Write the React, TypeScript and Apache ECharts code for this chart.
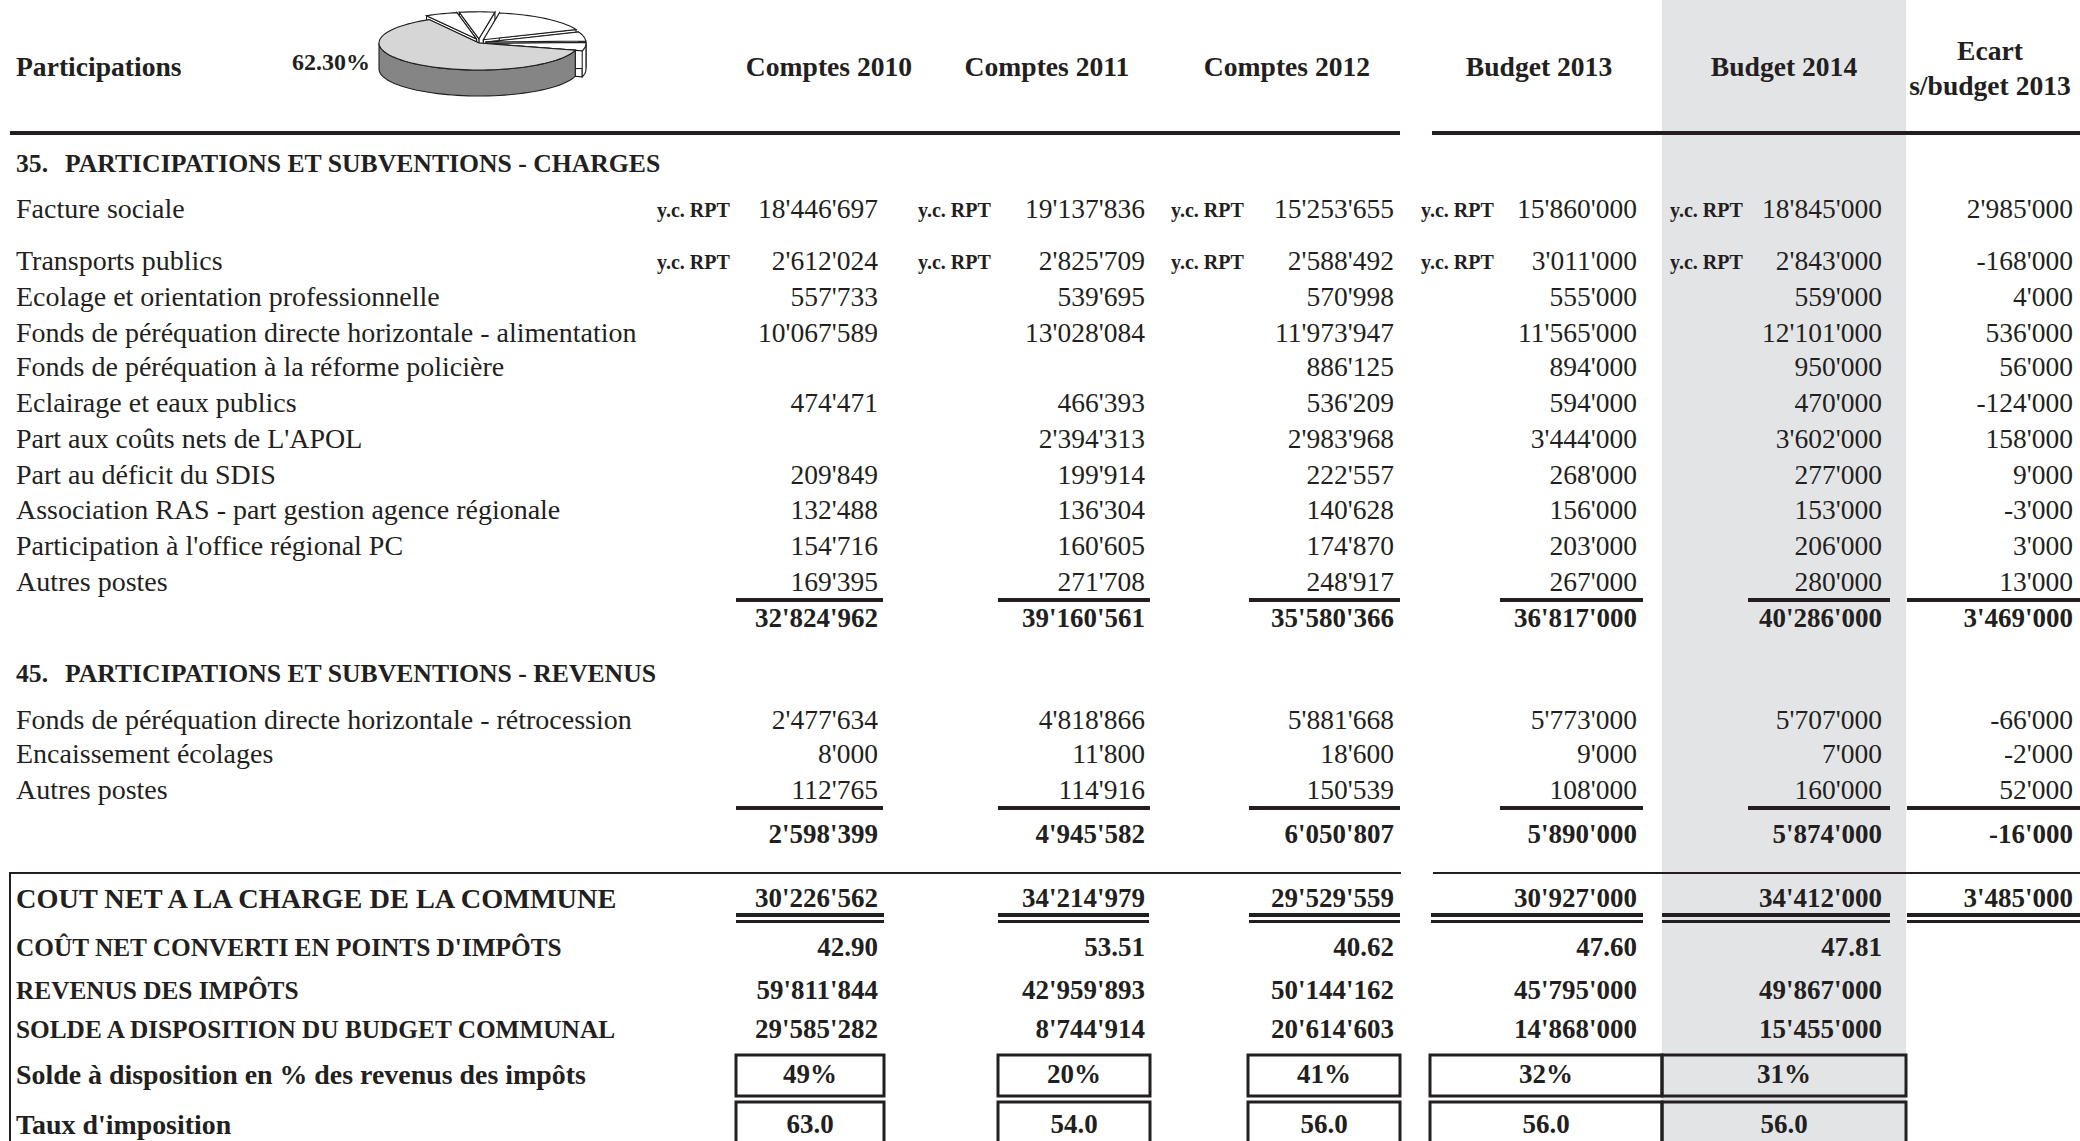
import React, { useEffect, useRef } from "react";
import * as echarts from "echarts";

// ---------------- data ----------------
const titleLabel = "Participations";
const pieShares = [62.3, 5.0, 5.5, 16.3, 5.7, 5.2];
const pieShareLabel = "62.30%";
const columnHeaders = ["Comptes 2010", "Comptes 2011", "Comptes 2012", "Budget 2013", "Budget 2014"];
const ecartHeaderLines = ["Ecart", "s/budget 2013"];
const rptTag = "y.c. RPT";

const chargesTitleNum = "35.";
const chargesTitle = "PARTICIPATIONS ET SUBVENTIONS - CHARGES";
const chargesLabels = [
  "Facture sociale",
  "Transports publics",
  "Ecolage et orientation professionnelle",
  "Fonds de péréquation directe horizontale - alimentation",
  "Fonds de péréquation à la réforme policière",
  "Eclairage et eaux publics",
  "Part aux coûts nets de L'APOL",
  "Part au déficit du SDIS",
  "Association RAS - part gestion agence régionale",
  "Participation à l'office régional PC",
  "Autres postes",
];
const chargesRptRows = [0, 1];
const charges2010 = [18446697, 2612024, 557733, 10067589, null, 474471, null, 209849, 132488, 154716, 169395];
const charges2011 = [19137836, 2825709, 539695, 13028084, null, 466393, 2394313, 199914, 136304, 160605, 271708];
const charges2012 = [15253655, 2588492, 570998, 11973947, 886125, 536209, 2983968, 222557, 140628, 174870, 248917];
const chargesB2013 = [15860000, 3011000, 555000, 11565000, 894000, 594000, 3444000, 268000, 156000, 203000, 267000];
const chargesB2014 = [18845000, 2843000, 559000, 12101000, 950000, 470000, 3602000, 277000, 153000, 206000, 280000];
const chargesEcart = [2985000, -168000, 4000, 536000, 56000, -124000, 158000, 9000, -3000, 3000, 13000];
const chargesTotals = [32824962, 39160561, 35580366, 36817000, 40286000, 3469000];

const revenusTitleNum = "45.";
const revenusTitle = "PARTICIPATIONS ET SUBVENTIONS - REVENUS";
const revenusLabels = [
  "Fonds de péréquation directe horizontale - rétrocession",
  "Encaissement écolages",
  "Autres postes",
];
const revenus2010 = [2477634, 8000, 112765];
const revenus2011 = [4818866, 11800, 114916];
const revenus2012 = [5881668, 18600, 150539];
const revenusB2013 = [5773000, 9000, 108000];
const revenusB2014 = [5707000, 7000, 160000];
const revenusEcart = [-66000, -2000, 52000];
const revenusTotals = [2598399, 4945582, 6050807, 5890000, 5874000, -16000];

const coutNetLabel = "COUT NET A LA CHARGE DE LA COMMUNE";
const coutNet = [30226562, 34214979, 29529559, 30927000, 34412000, 3485000];
const pointsLabel = "COÛT NET CONVERTI EN POINTS D'IMPÔTS";
const points = [42.9, 53.51, 40.62, 47.6, 47.81];
const revenusImpotsLabel = "REVENUS DES IMPÔTS";
const revenusImpots = [59811844, 42959893, 50144162, 45795000, 49867000];
const soldeLabel = "SOLDE A DISPOSITION DU BUDGET COMMUNAL";
const solde = [29585282, 8744914, 20614603, 14868000, 15455000];
const soldePctLabel = "Solde à disposition en % des revenus des impôts";
const soldePct = [49, 20, 41, 32, 31];
const tauxLabel = "Taux d'imposition";
const taux = [63.0, 54.0, 56.0, 56.0, 56.0];

// ---------------- layout / style ----------------
const W = 2080;
const H = 1141;
const INK = "#231f20";
const BAND = "#e3e4e6";
const SERIF = "'Liberation Serif', 'Times New Roman', serif";
const FS = { body: 28, head: 27.6, section: 25.7, rpt: 20, pct: 24, capsRow: 25.3, coutNet: 28.3, boldRow: 27.9, value: 27 };
const L = {
  labelX: 16,
  colRight: [878, 1145, 1394, 1637, 1882, 2073],
  colCenter: [829, 1047, 1287, 1539, 1784, 1990],
  rptX: [657, 918, 1171, 1421, 1670],
  band: [1662, 1906],
  headerY: 66,
  ecartY: [50, 85],
  headerRuleY: 131,
  headerRules: [[10, 1400], [1432, 2080]],
  chargesTitleY: 163,
  titleTextX: 65,
  chargeRowY: [208, 260, 296, 332, 366, 402, 438, 474, 509, 545, 581],
  chargeLineY: 598,
  chargeTotalY: 618,
  revenusTitleY: 673,
  revenusRowY: [719, 753, 789],
  revenusLineY: 806,
  revenusTotalY: 834,
  ulRanges: [[736, 883], [998, 1150], [1249, 1400], [1500, 1643], [1748, 1890], [1907, 2080]],
  frameY: 872,
  frameRanges: [[10, 1401], [1433, 2080]],
  coutNetY: 898,
  dblY: [913, 920],
  dblRanges: [[736, 884], [998, 1149], [1249, 1400], [1431, 1643], [1662, 1890], [1907, 2080]],
  pointsY: 947,
  revenusImpotsY: 990,
  soldeY: 1029,
  pctY: 1074,
  pctBox: [1055, 1096],
  tauxY: 1124,
  tauxBox: [1102, 1160],
  boxRanges: [[736, 884], [998, 1150], [1248, 1400], [1430, 1662], [1662, 1906]],
};
const PIE = { cx: 479, cy: 43, rx: 100, ry: 27, t: 26, start: 120, explode: 7 };

const fmt = (n: number | null) => {
  if (n === null || n === undefined) return "";
  const s = Math.abs(n).toString().replace(/\B(?=(\d{3})+(?!\d))/g, "'");
  return (n < 0 ? "-" : "") + s;
};
const font = (size: number, bold = false) => `${bold ? "bold " : ""}${size}px ${SERIF}`;

function txt(x: number, y: number, text: string, size: number, bold = false, align = "left") {
  return {
    type: "text",
    silent: true,
    x,
    y,
    style: {
      text,
      font: font(size, bold),
      fill: INK,
      align,
      textAlign: align,
      verticalAlign: "middle",
      textVerticalAlign: "middle",
    },
  };
}
function bar(x1: number, x2: number, y: number, h: number) {
  return { type: "rect", silent: true, shape: { x: x1, y, width: x2 - x1, height: h }, style: { fill: INK } };
}
function box(x1: number, x2: number, y1: number, y2: number, lw: number) {
  return {
    type: "rect",
    silent: true,
    shape: { x: x1, y: y1, width: x2 - x1, height: y2 - y1 },
    style: { fill: "none", stroke: INK, lineWidth: lw },
  };
}

function buildGraphics() {
  const els: any[] = [];
  // shaded Budget 2014 column
  els.push({ type: "rect", silent: true, shape: { x: L.band[0], y: 0, width: L.band[1] - L.band[0], height: H }, style: { fill: BAND } });

  // header
  els.push(txt(L.labelX, L.headerY, titleLabel, FS.head, true));
  els.push(txt(292, 62, pieShareLabel, FS.pct, true));
  columnHeaders.forEach((h, i) => els.push(txt(L.colCenter[i], L.headerY, h, FS.head, true, "center")));
  ecartHeaderLines.forEach((h, i) => els.push(txt(L.colCenter[5], L.ecartY[i], h, FS.head, true, "center")));
  L.headerRules.forEach(([a, b]) => els.push(bar(a, b, L.headerRuleY, 4)));

  // charges
  const chargeCols = [charges2010, charges2011, charges2012, chargesB2013, chargesB2014, chargesEcart];
  els.push(txt(L.labelX, L.chargesTitleY, chargesTitleNum, FS.section, true));
  els.push(txt(L.titleTextX, L.chargesTitleY, chargesTitle, FS.section, true));
  chargesLabels.forEach((lab, r) => {
    const y = L.chargeRowY[r];
    els.push(txt(L.labelX, y, lab, FS.body));
    chargeCols.forEach((col, c) => {
      const v = col[r];
      if (v !== null) els.push(txt(L.colRight[c], y, fmt(v), FS.value + 0.5, false, "right"));
    });
    if (chargesRptRows.includes(r)) L.rptX.forEach((x) => els.push(txt(x, y + 2, rptTag, FS.rpt, true)));
  });
  L.ulRanges.forEach(([a, b]) => els.push(bar(a, b, L.chargeLineY, 4)));
  chargesTotals.forEach((v, c) => els.push(txt(L.colRight[c], L.chargeTotalY, fmt(v), FS.value, true, "right")));

  // revenus
  const revCols = [revenus2010, revenus2011, revenus2012, revenusB2013, revenusB2014, revenusEcart];
  els.push(txt(L.labelX, L.revenusTitleY, revenusTitleNum, FS.section, true));
  els.push(txt(L.titleTextX, L.revenusTitleY, revenusTitle, FS.section, true));
  revenusLabels.forEach((lab, r) => {
    const y = L.revenusRowY[r];
    els.push(txt(L.labelX, y, lab, FS.body));
    revCols.forEach((col, c) => els.push(txt(L.colRight[c], y, fmt(col[r]), FS.value + 0.5, false, "right")));
  });
  L.ulRanges.forEach(([a, b]) => els.push(bar(a, b, L.revenusLineY, 4)));
  revenusTotals.forEach((v, c) => els.push(txt(L.colRight[c], L.revenusTotalY, fmt(v), FS.value, true, "right")));

  // summary frame
  L.frameRanges.forEach(([a, b]) => els.push(bar(a, b, L.frameY, 2)));
  els.push(bar(9, 11, L.frameY, H - L.frameY));

  els.push(txt(L.labelX, L.coutNetY, coutNetLabel, FS.coutNet, true));
  coutNet.forEach((v, c) => els.push(txt(L.colRight[c], L.coutNetY, fmt(v), FS.value, true, "right")));
  L.dblRanges.forEach(([a, b]) => {
    els.push(bar(a, b, L.dblY[0], 4));
    els.push(bar(a, b, L.dblY[1], 3));
  });

  els.push(txt(L.labelX, L.pointsY, pointsLabel, FS.capsRow, true));
  points.forEach((v, c) => els.push(txt(L.colRight[c], L.pointsY, v.toFixed(2), FS.value, true, "right")));
  els.push(txt(L.labelX, L.revenusImpotsY, revenusImpotsLabel, FS.capsRow, true));
  revenusImpots.forEach((v, c) => els.push(txt(L.colRight[c], L.revenusImpotsY, fmt(v), FS.value, true, "right")));
  els.push(txt(L.labelX, L.soldeY, soldeLabel, FS.capsRow, true));
  solde.forEach((v, c) => els.push(txt(L.colRight[c], L.soldeY, fmt(v), FS.value, true, "right")));

  els.push(txt(L.labelX, L.pctY, soldePctLabel, FS.boldRow, true));
  soldePct.forEach((v, c) => {
    const [a, b] = L.boxRanges[c];
    els.push(box(a, b, L.pctBox[0], L.pctBox[1], 3));
    els.push(txt((a + b) / 2, L.pctY, `${v}%`, FS.value, true, "center"));
  });
  els.push(txt(L.labelX, L.tauxY, tauxLabel, FS.boldRow, true));
  taux.forEach((v, c) => {
    const [a, b] = L.boxRanges[c];
    els.push(box(a, b, L.tauxBox[0], L.tauxBox[1], 3));
    els.push(txt((a + b) / 2, L.tauxY, v.toFixed(1), FS.value, true, "center"));
  });
  return els;
}

// ---------- 3D pie via custom series ----------
function sliceAngles() {
  const total = pieShares.reduce((a, b) => a + b, 0);
  const out: { a0: number; a1: number; mid: number }[] = [];
  let acc = 0;
  pieShares.forEach((v) => {
    const a0 = PIE.start + (acc / total) * 360;
    acc += v;
    const a1 = PIE.start + (acc / total) * 360;
    out.push({ a0, a1, mid: (a0 + a1) / 2 });
  });
  return out;
}

function renderSlice(params: any, api: any) {
  const i = params.dataIndex;
  const angles = sliceAngles();
  const { a0, a1, mid } = angles[i];
  const order = angles
    .map((a, k) => ({ k, s: Math.sin((a.mid * Math.PI) / 180) }))
    .sort((p, q) => q.s - p.s)
    .map((p) => p.k);
  const rank = order.indexOf(i);
  const base = rank * 10 + 1;
  const m = (mid * Math.PI) / 180;
  const ex = i === 0 ? 0 : PIE.explode;
  const cx = PIE.cx + ex * Math.cos(m);
  const cy = PIE.cy - ex * Math.sin(m) * 0.6;
  const P = (deg: number, dy = 0) => {
    const r = (deg * Math.PI) / 180;
    return [cx + PIE.rx * Math.cos(r), cy - PIE.ry * Math.sin(r) + dy];
  };
  const arc = (s: number, e: number, dy = 0) => {
    const pts: number[][] = [];
    const n = Math.max(2, Math.ceil((e - s) / 3));
    for (let j = 0; j <= n; j++) pts.push(P(s + ((e - s) * j) / n, dy));
    return pts;
  };
  const big = api.value(0) > 50;
  const topFill = big ? "#d6d6d6" : "#ffffff";
  const sideFill = big ? "#858585" : "#ffffff";
  const st = { stroke: "#1e1e1e", lineWidth: 1.1 };
  const t = PIE.t;
  const children: any[] = [];
  [a0, a1].forEach((a) => {
    children.push({
      type: "polygon",
      z2: base,
      shape: { points: [[cx, cy], P(a), P(a, t), [cx, cy + t]] },
      style: { fill: sideFill, ...st },
    });
  });
  for (let k = -1; k <= 1; k++) {
    const s = Math.max(a0, 180 + 360 * k);
    const e = Math.min(a1, 360 + 360 * k);
    if (e > s) {
      children.push({
        type: "polygon",
        z2: base + 1,
        shape: { points: arc(s, e).concat(arc(s, e, t).reverse()) },
        style: { fill: sideFill, ...st },
      });
    }
  }
  children.push({
    type: "polygon",
    z2: base + 2,
    shape: { points: [[cx, cy], ...arc(a0, a1)] },
    style: { fill: topFill, ...st },
  });
  return { type: "group", children };
}

export default function App() {
  const ref = useRef<HTMLDivElement>(null);
  useEffect(() => {
    if (!ref.current) return;
    const chart = echarts.init(ref.current, undefined, { renderer: "svg" });
    chart.setOption({
      animation: false,
      backgroundColor: "#ffffff",
      graphic: { elements: buildGraphics() },
      series: [
        {
          type: "custom",
          coordinateSystem: "none",
          silent: true,
          data: pieShares.map((v) => [v]),
          renderItem: renderSlice,
        },
      ],
    });
    return () => chart.dispose();
  }, []);
  return (
    <div
      ref={ref}
      style={{ position: "absolute", left: 0, top: 0, width: W, height: H, background: "#fff" }}
    />
  );
}
